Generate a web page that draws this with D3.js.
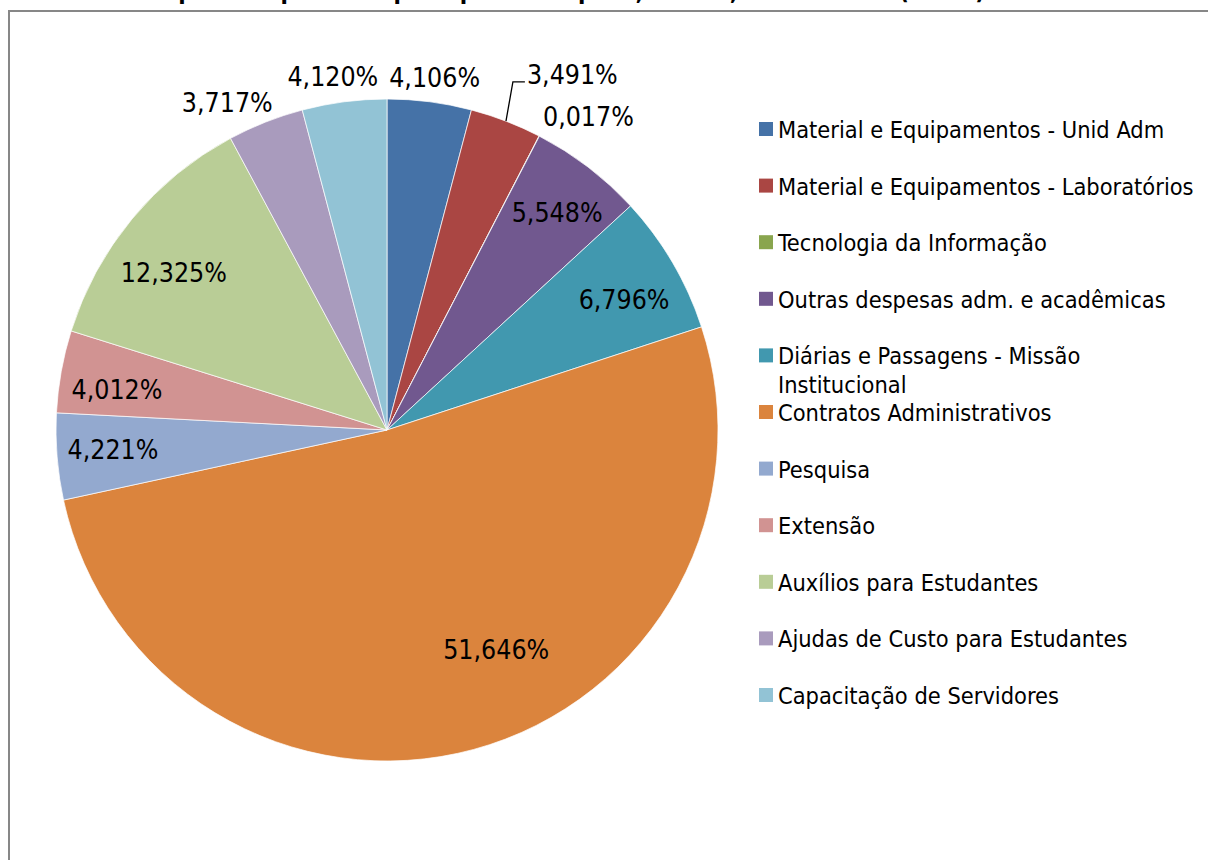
<!DOCTYPE html>
<html>
<head>
<meta charset="utf-8">
<script src="https://cdn.jsdelivr.net/npm/d3@7"></script>
<style>
  body { margin: 0; background: #fff; }
  svg text { font-family: "DejaVu Sans Condensed", "DejaVu Sans", sans-serif; fill: #000; }
</style>
</head>
<body>
<div id="chart"></div>
<script>
// dados do gráfico
var categorias = [
    "Material e Equipamentos - Unid Adm",
    "Material e Equipamentos - Laboratórios",
    "Tecnologia da Informação",
    "Outras despesas adm. e acadêmicas",
    "Diárias e Passagens - Missão Institucional",
    "Contratos Administrativos",
    "Pesquisa",
    "Extensão",
    "Auxílios para Estudantes",
    "Ajudas de Custo para Estudantes",
    "Capacitação de Servidores"
];
var percentuais = [4.106, 3.491, 0.017, 5.548, 6.796, 51.646, 4.221, 4.012, 12.325, 3.717, 4.120];
var cores = ["#4572A7", "#AA4643", "#89A54E", "#71588F", "#4198AF", "#DB843D",
             "#93A9CF", "#D19392", "#B9CD96", "#A99BBD", "#92C3D5"];
var titulo = "Gráfico 3 – Despesa empenhada por tipo de despesa, UFABC, 2011 – 2012 (em %)";

// ajuste fino dos rótulos: [desvio do ângulo (graus), raio relativo]
var posRotulo = [[0.3, 1.075], [6.5, 1.21], [5.3, 1.127], [0.6, 0.835], [1.5, 0.818],
                 [-11.3, 0.74], [0.6, 0.83], [-1.6, 0.825], [-3.2, 0.80], [-4.5, 1.10], [-1.3, 1.08]];

var width = 1208, height = 860;
var cx = 387, cy = 430, raio = 331;

var svg = d3.select("#chart").append("svg")
    .attr("width", width)
    .attr("height", height);

// título (cortado no topo, como no original)
svg.append("text")
    .attr("x", -2)
    .attr("y", -1)
    .style("font-weight", "bold")
    .style("font-size", "24px")
    .text(titulo);

// moldura
svg.append("rect")
    .attr("x", 9).attr("y", 11)
    .attr("width", 1400).attr("height", 1000)
    .style("fill", "none")
    .style("stroke", "#878787")
    .style("stroke-width", 2);

var dados = categorias.map(function (c, i) {
    return { nome: c, valor: percentuais[i], cor: cores[i], idx: i };
});

var pie = d3.pie().sort(null).value(function (d) { return d.valor; });
var arc = d3.arc().innerRadius(0).outerRadius(raio);
var arcos = pie(dados);

var g = svg.append("g").attr("transform", "translate(" + cx + "," + cy + ")");

g.selectAll("path.fatia")
    .data(arcos)
    .enter().append("path")
    .attr("class", "fatia")
    .attr("d", arc)
    .style("fill", function (d) { return d.data.cor; })
    .style("stroke", "#fff")
    .style("stroke-width", 0.7);

var fmt = function (v) { return d3.format(".3f")(v).replace(".", ",") + "%"; };

function polar(ang, r) {
    return [Math.sin(ang) * r, -Math.cos(ang) * r];
}

arcos.forEach(function (d, i) {
    var meio = (d.startAngle + d.endAngle) / 2;
    var a = meio + posRotulo[i][0] * Math.PI / 180;
    var p = polar(a, raio * posRotulo[i][1]);
    var t = g.append("text")
        .attr("x", p[0])
        .attr("y", p[1])
        .attr("text-anchor", "middle")
        .attr("dominant-baseline", "central")
        .style("font-size", "26.5px")
        .text(fmt(d.data.valor));

    // linha de chamada para a fatia de laboratórios
    if (i === 1) {
        var w = t.node().getComputedTextLength();
        var borda = polar(meio, raio);
        var esq = p[0] - w / 2 - 2;
        var yl = p[1] + 7;
        g.append("polyline")
            .attr("points", [borda, [esq - 12, yl], [esq, yl]].map(function (q) { return q.join(","); }).join(" "))
            .style("fill", "none")
            .style("stroke", "#000")
            .style("stroke-width", 1.3);
    }
});

// legenda
var yLeg = d3.scalePoint().domain(categorias).range([129, 695]);
var leg = svg.append("g");
var maxLarg = 425;

dados.forEach(function (d) {
    var y = yLeg(d.nome);
    leg.append("rect")
        .attr("x", 759).attr("y", y - 7)
        .attr("width", 14).attr("height", 14)
        .style("fill", d.cor);
    var t = leg.append("text")
        .attr("x", 778)
        .attr("y", y + 1)
        .attr("dominant-baseline", "central")
        .style("font-size", "23.4px");
    // quebra de linha simples
    var palavras = d.nome.split(" "), linha = [];
    var ts = t.append("tspan").attr("x", 778);
    palavras.forEach(function (p) {
        linha.push(p);
        ts.text(linha.join(" "));
        if (ts.node().getComputedTextLength() > maxLarg && linha.length > 1) {
            linha.pop();
            ts.text(linha.join(" "));
            linha = [p];
            ts = t.append("tspan").attr("x", 778).attr("dy", "1.24em").text(p);
        }
    });
});
</script>
</body>
</html>
